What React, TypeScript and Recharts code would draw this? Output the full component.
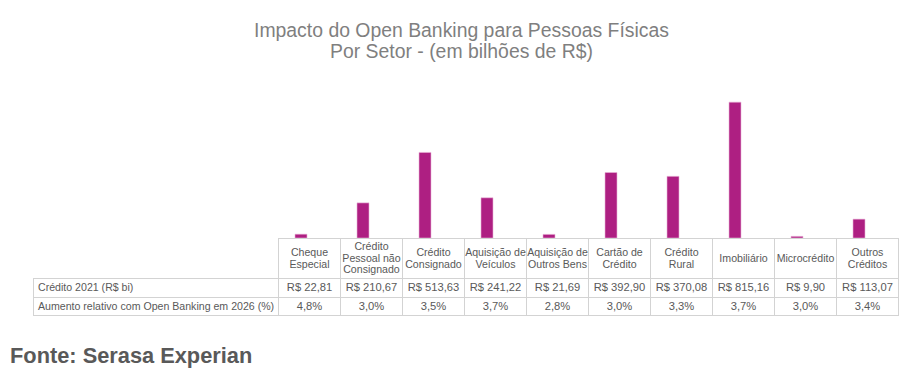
import React from 'react';
import { BarChart, Bar, XAxis, YAxis } from 'recharts';

const categories = [
  'Cheque\nEspecial',
  'Crédito\nPessoal não\nConsignado',
  'Crédito\nConsignado',
  'Aquisição de\nVeículos',
  'Aquisição de\nOutros Bens',
  'Cartão de\nCrédito',
  'Crédito\nRural',
  'Imobiliário',
  'Microcrédito',
  'Outros\nCréditos',
];
const credito2021 = [22.81, 210.67, 513.63, 241.22, 21.69, 392.9, 370.08, 815.16, 9.9, 113.07];
const aumento2026 = [4.8, 3.0, 3.5, 3.7, 2.8, 3.0, 3.3, 3.7, 3.0, 3.4];
const rowLabels = ['Crédito 2021 (R$ bi)', 'Aumento relativo com Open Banking em 2026 (%)'];
const titleLines = ['Impacto do Open Banking para Pessoas Físicas', 'Por Setor - (em bilhões de R$)'];
const sourceText = 'Fonte: Serasa Experian';

const data = categories.map((c, i) => ({
  name: c.replace(/\n/g, ' '),
  credito: credito2021[i],
  aumento: aumento2026[i] / 100,
}));

const FONT = '"Liberation Sans", Arial, sans-serif';
const W = 913;
const H = 384;
const COL0 = 278;
const COLW = 62;
const LEFT = 33;
const TOP = 238;
const HEAD_H = 40;
const ROW_H = [19, 18];
const BORDER = '1px solid #d3d3d3';
const TXT = '#595959';
const TFS = 10.6;

const fmtMoney = (v: number) => 'R$ ' + v.toFixed(2).replace('.', ',');
const fmtPct = (v: number) => v.toFixed(1).replace('.', ',') + '%';

function Cell(props: { x: number; y: number; w: number; h: number; children?: React.ReactNode; align?: string; pad?: number }) {
  const { x, y, w, h, children, align = 'center', pad = 0 } = props;
  return (
    <div
      style={{
        position: 'absolute',
        left: x,
        top: y,
        width: w + 1,
        height: h + 1,
        boxSizing: 'border-box',
        border: BORDER,
        display: 'flex',
        alignItems: 'center',
        justifyContent: align === 'left' ? 'flex-start' : 'center',
        textAlign: align as any,
        paddingLeft: pad,
        whiteSpace: 'pre',
        fontSize: TFS,
        lineHeight: '11.7px',
        color: TXT,
        fontFamily: FONT,
        overflow: 'visible',
      }}
    >
      {children}
    </div>
  );
}

export default function App() {
  const r1y = TOP + HEAD_H;
  const r2y = r1y + ROW_H[0];
  return (
    <div style={{ position: 'absolute', left: 0, top: 0, width: W, height: H, background: '#fff', fontFamily: FONT }}>
      <div
        style={{
          position: 'absolute',
          left: 5,
          top: 20,
          width: W,
          textAlign: 'center',
          fontSize: 19.4,
          lineHeight: '21px',
          color: '#7f7f7f',
        }}
      >
        {titleLines.map((t, i) => (
          <div key={i}>{t}</div>
        ))}
      </div>
      <div style={{ position: 'absolute', left: 0, top: 0 }}>
        <BarChart
          width={W}
          height={H}
          data={data}
          margin={{ top: 88, right: W - (COL0 + COLW * categories.length), bottom: H - TOP, left: COL0 }}
          barSize={12}
          barGap={5}
        >
          <XAxis dataKey="name" hide />
          <YAxis hide domain={[0, 900]} />
          <Bar dataKey="credito" fill="#AE1F82" stroke="#e9b4d6" strokeWidth={0.6} isAnimationActive={false} />
          <Bar dataKey="aumento" fill="#d9d9d9" isAnimationActive={false} />
        </BarChart>
      </div>
      {categories.map((c, i) => (
        <Cell key={'h' + i} x={COL0 + i * COLW} y={TOP} w={COLW} h={HEAD_H}>
          {c}
        </Cell>
      ))}
      <Cell x={LEFT} y={r1y} w={COL0 - LEFT} h={ROW_H[0]} align="left" pad={4}>
        {rowLabels[0]}
      </Cell>
      <Cell x={LEFT} y={r2y} w={COL0 - LEFT} h={ROW_H[1]} align="left" pad={4}>
        {rowLabels[1]}
      </Cell>
      {credito2021.map((v, i) => (
        <Cell key={'c' + i} x={COL0 + i * COLW} y={r1y} w={COLW} h={ROW_H[0]}>
          <span style={{ fontSize: 11.2 }}>{fmtMoney(v)}</span>
        </Cell>
      ))}
      {aumento2026.map((v, i) => (
        <Cell key={'a' + i} x={COL0 + i * COLW} y={r2y} w={COLW} h={ROW_H[1]}>
          <span style={{ fontSize: 11.2 }}>{fmtPct(v)}</span>
        </Cell>
      ))}
      <div
        style={{
          position: 'absolute',
          left: 10,
          top: 343,
          fontSize: 21.8,
          fontWeight: 'bold',
          color: '#595959',
          lineHeight: '26px',
        }}
      >
        {sourceText}
      </div>
    </div>
  );
}
